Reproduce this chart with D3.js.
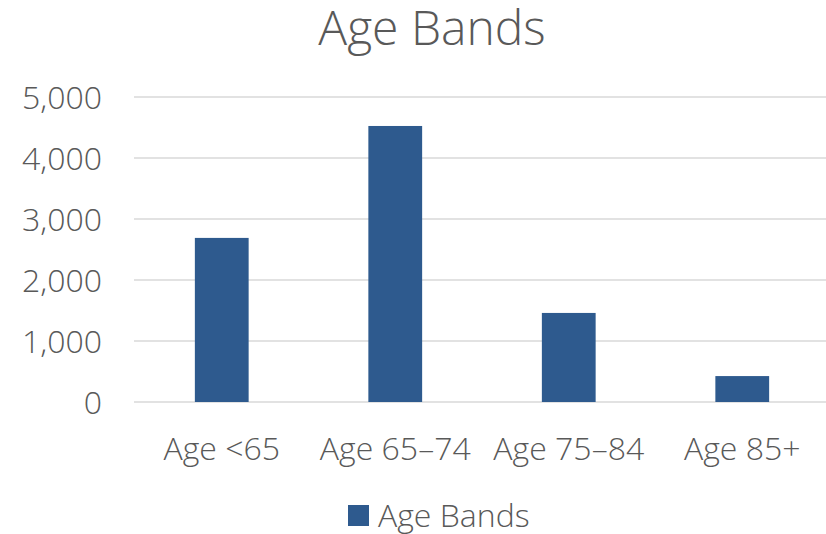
<!DOCTYPE html>
<html><head><meta charset="utf-8">
<script src="https://cdn.jsdelivr.net/npm/d3@7"></script>
<style>
body{margin:0;background:#fff;}
text{font-family:"Open Sans",sans-serif;font-weight:300;fill:#595959;}
</style></head>
<body><svg id="c" width="826" height="534"></svg>
<script>
const categories = ["Age <65","Age 65–74","Age 75–84","Age 85+"];
const values = [2690, 4525, 1460, 425];
const yTicks = [0,1000,2000,3000,4000,5000];
const title = "Age Bands";
const seriesName = "Age Bands";

const svg = d3.select("#c");
const x = d3.scaleBand().domain(categories).range([135, 829]).paddingInner(0.69).paddingOuter(0.345);
const y = d3.scaleLinear().domain([0,5000]).range([402, 97]);

svg.append("g").selectAll("line").data(yTicks).join("line")
  .attr("x1",134).attr("x2",826).attr("y1",d=>y(d)).attr("y2",d=>y(d))
  .attr("stroke","#d9d9d9").attr("stroke-width",1.5);

const yAxis = d3.axisLeft(y).tickValues(yTicks).tickFormat(d3.format(",")).tickSize(0).tickPadding(0);
const ga = svg.append("g").attr("transform","translate(102,0)").call(yAxis);
ga.select(".domain").remove();
ga.selectAll("text").attr("font-size",32).attr("font-family","Open Sans").attr("dy","0.36em").style("font-weight",300).attr("fill","#595959");

svg.append("g").selectAll("rect").data(values).join("rect")
  .attr("x",(d,i)=>x(categories[i])).attr("width",x.bandwidth())
  .attr("y",d=>y(d)).attr("height",d=>y(0)-y(d)).attr("fill","#2e5a8e");

const xAxis = d3.axisBottom(x).tickSize(0).tickPadding(0);
const gx = svg.append("g").attr("transform","translate(0,460)").call(xAxis);
gx.select(".domain").remove();
gx.selectAll("text").attr("font-size",32).attr("font-family","Open Sans").style("font-weight",300).attr("fill","#595959").attr("y",0).attr("dy","0");

svg.append("text").attr("x",432).attr("y",45).attr("text-anchor","middle").attr("font-size",48).text(title);

svg.append("rect").attr("x",348).attr("y",505).attr("width",21).attr("height",21).attr("fill","#2e5a8e");
svg.append("text").attr("x",378).attr("y",527).attr("font-size",32).text(seriesName);
</script></body></html>
